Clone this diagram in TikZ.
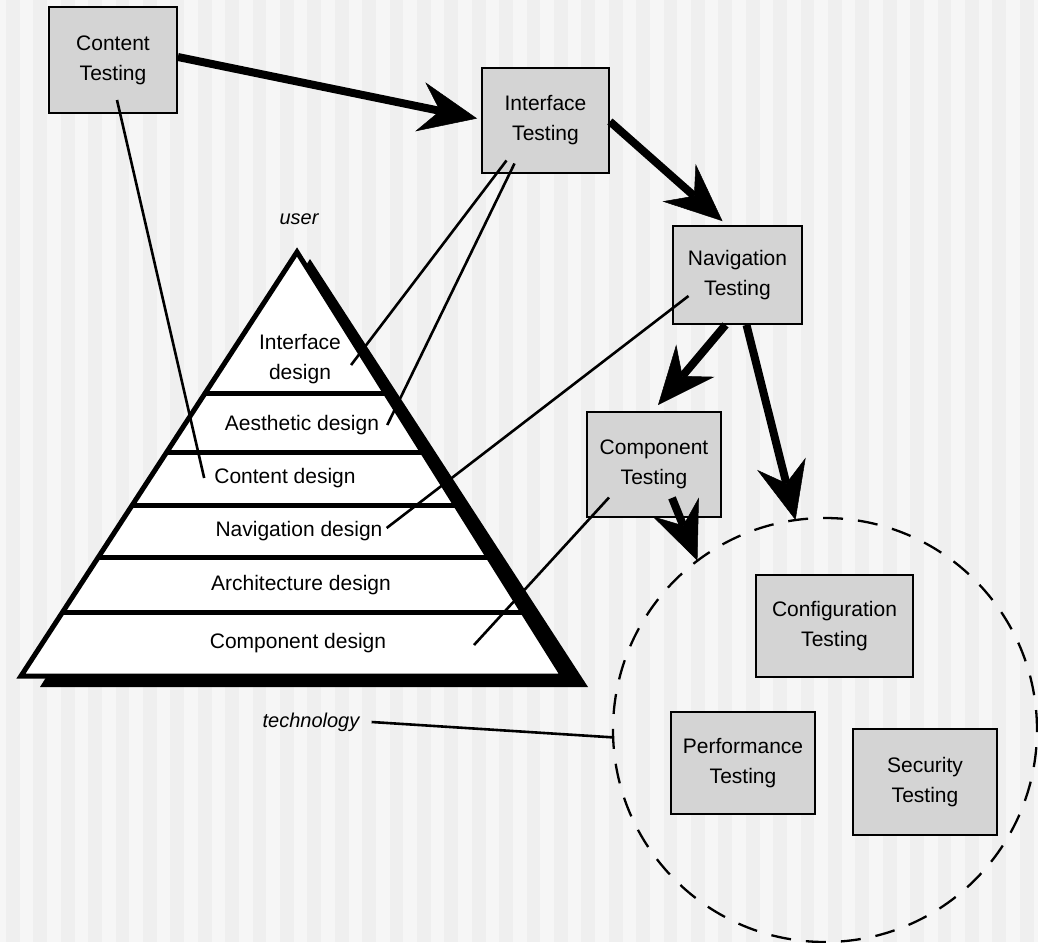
\documentclass[tikz,border=0pt]{standalone}
\usepackage{fontspec}
\setmainfont{Liberation Sans}
\usetikzlibrary{arrows.meta,calc}
\definecolor{bgl}{HTML}{F6F6F6}
\definecolor{bgd}{HTML}{EFEFEF}
\definecolor{boxfill}{HTML}{D4D4D4}
\begin{document}
\begin{tikzpicture}[x=1pt,y=-1pt,
  tbox/.style={draw=black, line width=1.8pt, fill=boxfill, align=center, inner sep=0pt,
    font=\fontsize{21}{30}\selectfont},
  plabel/.style={inner sep=2pt, align=center, font=\fontsize{21}{30}\selectfont},
  ilabel/.style={inner sep=2pt, font=\fontsize{20}{24}\selectfont\itshape},
  thinline/.style={line width=2.6pt},
  bigarrow/.style={line width=8pt, -{Stealth[length=58pt, width=50pt, inset=20pt, line width=0.5pt]}},
  dashcircle/.style={draw=black, circle, line width=2.3pt, dash pattern=on 20pt off 15pt,
    minimum size=424pt, inner sep=0pt, outer sep=0pt}]
\useasboundingbox (0,0) rectangle (1038,942);
\clip (0,0) rectangle (1038,942);
% background stripes
\fill[bgl] (0,0) rectangle (1038,942);
\foreach \i in {0,...,38} {
  \fill[bgd] ({6+27.4*\i},0) rectangle +(13.7,942);
}
% dashed circle (technology cluster)
\node[dashcircle] (tech) at (825,730) {};
% pyramid shadow and body
\fill[black] (310,259) -- (588,687) -- (40,687) -- cycle;
\filldraw[fill=white, draw=black, line width=5pt, line join=miter] (297,252) -- (563,676) -- (21,676) -- cycle;
\begin{scope}
  \clip (297,252) -- (563,676) -- (21,676) -- cycle;
  \foreach \yy in {393,452,505,557,612} {
    \draw[line width=5pt] (0,\yy) -- (620,\yy);
  }
\end{scope}
% pyramid labels
\node[plabel] (ld1) at (300,359) {Interface\\design};
\node[plabel] (ld2) at (302,425) {Aesthetic design};
\node[plabel] (ld3) at (285,478) {Content design};
\node[plabel] (ld4) at (299,531) {Navigation design};
\node[plabel] (ld5) at (301,585) {Architecture design};
\node[plabel] (ld6) at (298,643) {Component design};
% side labels
\node[ilabel] (ul) at (299,219) {user};
\node[ilabel] (tl) at (311,722) {technology};
% testing boxes
\node[tbox, minimum width=128pt, minimum height=106pt] (ct) at (113,60) {Content\\Testing};
\node[tbox, minimum width=127pt, minimum height=105pt] (it) at (545.5,120.5) {Interface\\Testing};
\node[tbox, minimum width=129pt, minimum height=98pt] (nt) at (737.5,275) {Navigation\\Testing};
\node[tbox, minimum width=134pt, minimum height=105pt] (cpt) at (654,464.5) {Component\\Testing};
\node[tbox, minimum width=157pt, minimum height=102pt] (cft) at (834.5,626) {Configuration\\Testing};
\node[tbox, minimum width=144pt, minimum height=102pt] (pt) at (743,763) {Performance\\Testing};
\node[tbox, minimum width=144pt, minimum height=106pt] (st) at (925,782) {Security\\Testing};
% thin connectors
\draw[thinline] ([xshift=4pt,yshift=-40pt]ct.center) -- ([xshift=-8pt]ld3.west);
\draw[thinline] ([xshift=-39pt,yshift=-40pt]it.center) -- ([xshift=8pt,yshift=-6pt]ld1.east);
\draw[thinline] ([xshift=-31pt,yshift=-43pt]it.center) -- ([xshift=6pt]ld2.east);
\draw[thinline] ([xshift=-49pt,yshift=-21pt]nt.center) -- ([xshift=2pt,yshift=3pt]ld4.east);
\draw[thinline] ([xshift=-45pt,yshift=-33pt]cpt.center) -- ([xshift=176pt,yshift=-2pt]ld6.center);
\draw[thinline] ([xshift=10pt]tl.east) -- (tech.182);
% thick arrows
\draw[bigarrow] ([yshift=3pt]ct.east) -- ([xshift=-4pt,yshift=2pt]it.west);
\draw[bigarrow] ([yshift=-1pt]it.east) -- ([xshift=-15pt,yshift=4pt]nt.north);
\draw[bigarrow] ([xshift=-12pt]nt.south) -- ([xshift=4pt,yshift=6pt]cpt.north);
\draw[bigarrow] ([xshift=9pt]nt.south) -- (tech.98);
\draw[bigarrow] ([xshift=18pt,yshift=20pt]cpt.south) -- (tech.127);
\end{tikzpicture}
\end{document}
